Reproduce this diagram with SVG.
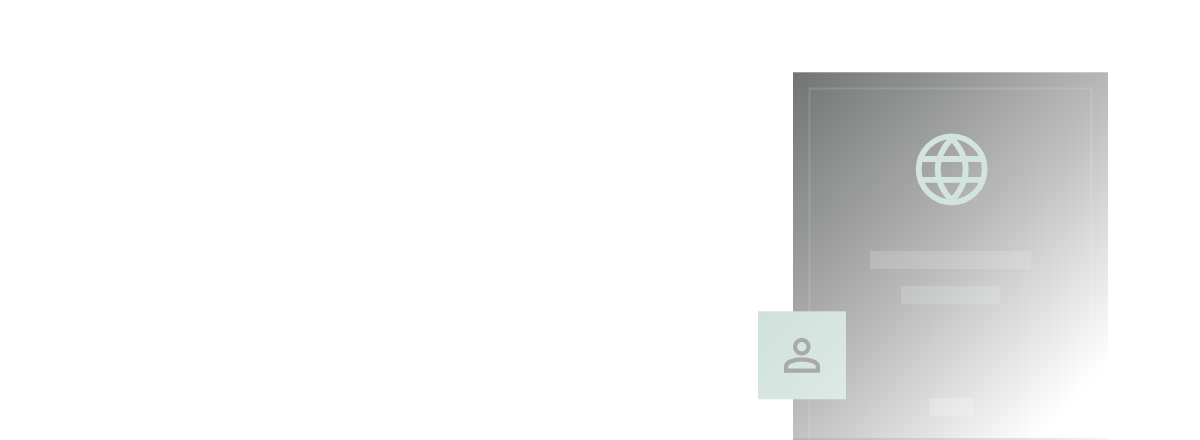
<svg xmlns="http://www.w3.org/2000/svg" width="1200" height="440" viewBox="0 0 1200 440">
<defs>
<linearGradient id="panel" gradientUnits="userSpaceOnUse" x1="793" y1="72" x2="1100" y2="372">
<stop offset="0" stop-color="#717473"/><stop offset="0.55" stop-color="#b9bab9"/><stop offset="1" stop-color="#ffffff"/>
</linearGradient>
<linearGradient id="base" x1="0" y1="0" x2="1" y2="0">
<stop offset="0" stop-color="#b4b5b4"/><stop offset="1" stop-color="#f2f2f2"/>
</linearGradient>
<linearGradient id="card" x1="0" y1="0" x2="1" y2="1">
<stop offset="0" stop-color="#cfe1da"/><stop offset="1" stop-color="#dde9e5"/>
</linearGradient>
</defs>
<style>
.bar{fill:#f0f6f4;fill-opacity:.2}
.globe{fill:none;stroke:#d3e3de;stroke-width:5.800;stroke-linejoin:round}
.person{fill:none;stroke:#a9a9a9;stroke-width:4.200}
</style>
<rect width="1200" height="440" fill="#fff"/>
<g id="panel-node">
<rect x="793" y="72.300" width="315" height="367.700" fill="url(#panel)"/>
<rect x="793" y="438" width="315" height="2" fill="url(#base)"/>
<path d="M809.500 440V88.500H1091.500V440" fill="none" stroke="#fff" stroke-opacity=".13" stroke-width="2"/>
<rect class="bar" x="870" y="251" width="161" height="18"/>
<rect class="bar" x="901" y="286" width="99" height="18"/>
<rect x="929.500" y="398" width="44" height="18" fill="#fff" fill-opacity=".22"/>
</g>
<g id="globe-icon" class="globe">
<circle cx="951.700" cy="169.300" r="33"/>
<path d="M951.700 138.500C933 158 933 181 951.700 200.500C970.400 181 970.400 158 951.700 138.500Z"/>
<path d="M921 159H982M921 179.800H982"/>
</g>
<g id="user-node">
<rect x="758" y="311.300" width="88" height="88" fill="url(#card)"/>
<g class="person">
<circle cx="801.800" cy="346.700" r="6.800"/>
<path d="M786.100 370.600V366C786.100 362 794 359.400 801.800 359.400C809.600 359.400 817.900 362 817.900 366V370.600Z"/>
</g>
</g>
<g id="connectors"></g>
</svg>
